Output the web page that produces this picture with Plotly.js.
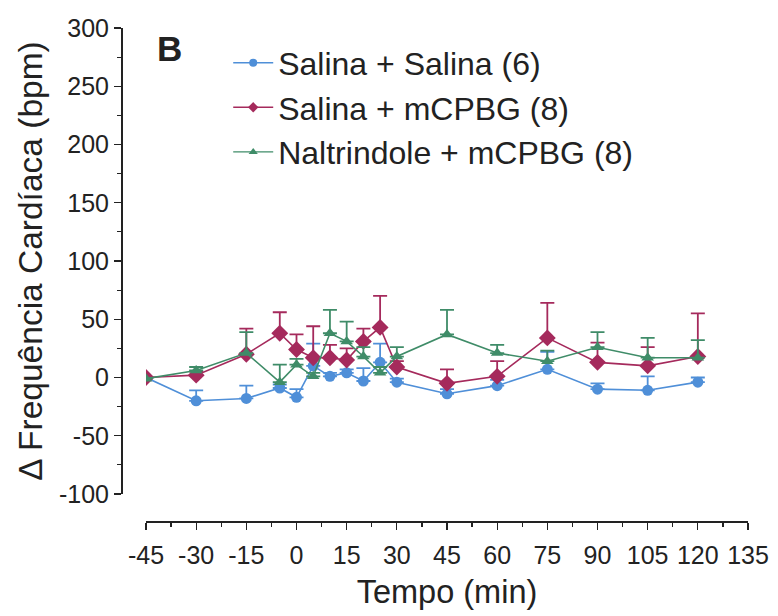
<!DOCTYPE html>
<html>
<head>
<meta charset="utf-8">
<script src="https://cdn.plot.ly/plotly-3.0.1.min.js"></script>
<style>html,body{margin:0;padding:0;background:#fff;}#chart{width:778px;height:616px;}</style>
</head>
<body>
<div id="chart"></div>
<script>
// Time points (min)
var tempo = [-45, -30, -15, -5, 0, 5, 10, 15, 20, 25, 30, 45, 60, 75, 90, 105, 120];

// Salina + Salina (6)
var salSal = [0, -20, -18, -9, -17, 10, 1, 4, -3, 13, -4, -14, -7, 7, -10, -11, -4];
var salSalErr = [0, 9, 11, 3, 7, 19, 3, 3, 11, 16, 3, 4, 5, 15, 5, 12, 4];

// Salina + mCPBG (8)
var salMcpbg = [0, 2, 20, 38, 24, 17, 17, 15, 31, 43, 9, -5, 1, 34, 13, 10, 18];
var salMcpbgErr = [0, 3, 22, 18, 13, 27, 11, 10, 11, 27, 5, 12, 13, 30, 17, 16, 37];

// Naltrindole + mCPBG (8)
var naltMcpbg = [-1, 6, 21, -4, 11, 1, 38, 31, 18, 4, 18, 37, 21, 14, 26, 17, 17];
var naltMcpbgErr = [0, 3, 18, 15, 5, 3, 20, 17, 8, 5, 8, 21, 7, 9, 13, 17, 15];

var seriesNames = ['Salina + Salina (6)', 'Salina + mCPBG (8)', 'Naltrindole + mCPBG (8)'];
var xTickVals = [-45, -30, -15, 0, 15, 30, 45, 60, 75, 90, 105, 120, 135];
var xTickText = ['-45', '-30', '-15', '0', '15', '30', '45', '60', '75', '90', '105', '120', '135'];
var yTickVals = [-100, -50, 0, 50, 100, 150, 200, 250, 300];
var yTickText = ['-100', '-50', '0', '50', '100', '150', '200', '250', '300'];

var colors = ['#4f8fd8', '#a52a5c', '#3f8c68'];
var symbols = ['circle', 'diamond', 'triangle-up'];
var sizes = [11, 13, 11];
var ys = [salSal, salMcpbg, naltMcpbg];
var errs = [salSalErr, salMcpbgErr, naltMcpbgErr];

var traces = [];
for (var i = 0; i < 3; i++) {
  traces.push({
    x: tempo, y: ys[i], type: 'scatter', mode: 'lines+markers',
    showlegend: false,
    line: {color: colors[i], width: 1.6},
    marker: {color: colors[i], symbol: symbols[i], size: sizes[i]},
    error_y: {type: 'data', symmetric: false, array: errs[i],
              arrayminus: errs[i].map(function(){return 0;}),
              color: colors[i], thickness: 1.8, width: 7}
  });
}
for (var j = 0; j < 3; j++) {
  traces.push({
    x: [null], y: [null], type: 'scatter', mode: 'lines+markers',
    name: seriesNames[j], showlegend: true,
    line: {color: colors[j], width: 1.4},
    marker: {color: colors[j], symbol: symbols[j], size: 8}
  });
}

var axisColor = '#222';
var fontFam = '"Liberation Sans", Arial, sans-serif';

var layout = {
  width: 778, height: 616,
  margin: {l: 121, r: 30, t: 28, b: 95},
  paper_bgcolor: '#fff', plot_bgcolor: '#fff',
  font: {family: fontFam, color: '#222'},
  showlegend: true,
  legend: {x: 0.171, y: 0.985, xanchor: 'left', yanchor: 'top',
           font: {size: 32, family: fontFam, color: '#222'},
           itemwidth: 40,
           bgcolor: 'rgba(0,0,0,0)', tracegroupgap: 0},
  xaxis: {
    domain: [25/627, 1], range: [-45, 135], anchor: 'free', position: 0,
    tickmode: 'array', tickvals: xTickVals, ticktext: xTickText, tickangle: 0,
    ticks: 'outside', ticklen: 7, tickwidth: 1.3, tickcolor: axisColor,
    minor: {tickmode: 'linear', tick0: -45, dtick: 7.5, ticks: 'outside', ticklen: 4, tickwidth: 1.2, tickcolor: axisColor},
    showline: true, linecolor: axisColor, linewidth: 1.5,
    showgrid: false, zeroline: false,
    tickfont: {size: 25, family: fontFam, color: '#222'},
    ticklabelstandoff: 4,
    title: {text: 'Tempo (min)', font: {size: 32.5, family: fontFam, color: '#222'}, standoff: 12}
  },
  yaxis: {
    domain: [27/493, 1], range: [-100, 300], anchor: 'free', position: 0,
    tickmode: 'array', tickvals: yTickVals, ticktext: yTickText,
    ticks: 'outside', ticklen: 7, tickwidth: 1.3, tickcolor: axisColor,
    minor: {tickmode: 'linear', tick0: 0, dtick: 25, ticks: 'outside', ticklen: 4, tickwidth: 1.2, tickcolor: axisColor},
    showline: true, linecolor: axisColor, linewidth: 1.5,
    showgrid: false, zeroline: false,
    tickfont: {size: 25, family: fontFam, color: '#222'},
    title: {text: 'Δ Frequência Cardíaca (bpm)', font: {size: 33.5, family: fontFam, color: '#222'}, standoff: 4}
  },
  annotations: [{
    text: '<b>B</b>', xref: 'paper', yref: 'paper', x: 0.055, y: 0.959,
    xanchor: 'left', yanchor: 'middle', showarrow: false,
    font: {size: 35, family: fontFam, color: '#222'}
  }]
};

Plotly.newPlot('chart', traces, layout, {displayModeBar: false, staticPlot: true});
</script>
</body>
</html>
